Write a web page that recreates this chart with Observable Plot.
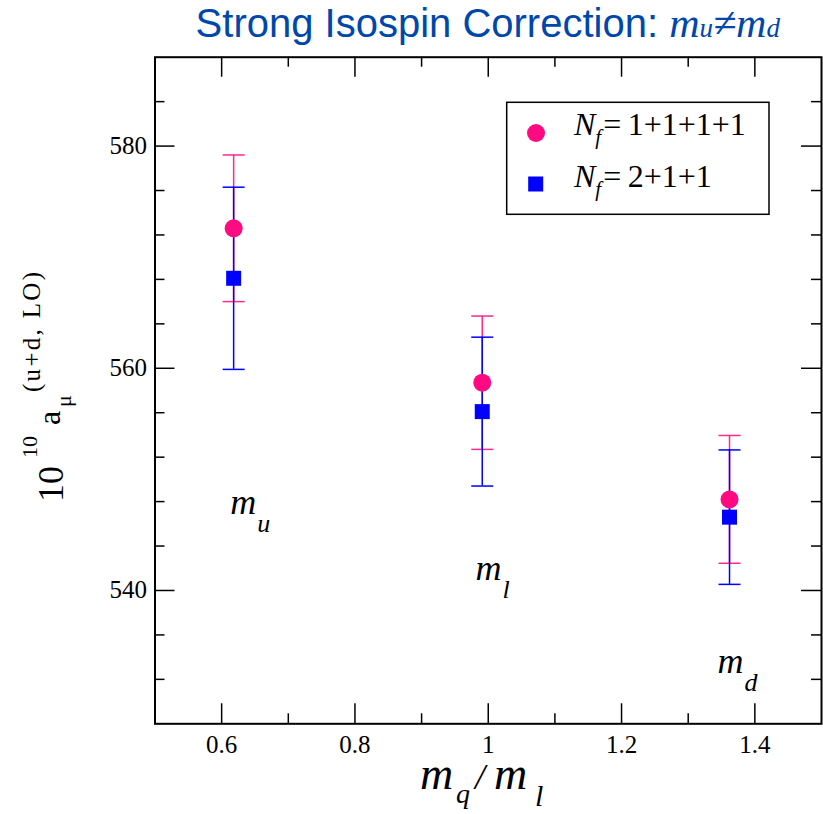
<!DOCTYPE html>
<html><head><meta charset="utf-8">
<script src="https://cdn.jsdelivr.net/npm/d3@7"></script>
<script src="https://cdn.jsdelivr.net/npm/@observablehq/plot@0.6"></script>
<style>
body{margin:0;background:#fff;}
#title{height:50px;box-sizing:border-box;padding:1px 2px 0 154.5px;text-align:center;font-family:"Liberation Sans",Arial,sans-serif;font-size:40px;line-height:44px;color:#0047ab;white-space:nowrap;}
#title .m{font-family:"Liberation Serif",serif;font-style:italic;font-size:42px;}
#title .s{font-size:27px;}
#chart svg{display:block;overflow:visible;}
</style></head><body>
<div id="title">Strong Isospin Correction: <span class="m">m<span class="s">u</span>≠m<span class="s">d</span></span></div>
<div id="chart"></div>
<script>
// ---- data ----
const massRatio = [0.618, 0.991, 1.362];
const nf1111Value = [572.6, 558.7, 548.2];
const nf1111Error = [6.6, 6.0, 5.75];
const nf211Value = [568.1, 556.1, 546.6];
const nf211Error = [8.2, 6.7, 6.05];
const seriesNames = ["Nf=1+1+1+1", "Nf=2+1+1"];
const legendLabels = ["=\u20091+1+1+1", "=\u20092+1+1"];
const xMajorTicks = [0.6, 0.8, 1.0, 1.2, 1.4];
const xTickLabels = ["0.6", "0.8", "1", "1.2", "1.4"];
const xMinorTicks = [0.7, 0.9, 1.1, 1.3];
const yMajorTicks = [540, 560, 580];
const yMinorTicks = [532, 536, 544, 548, 552, 556, 564, 568, 572, 576, 584];
const annoX = [0.613, 0.981, 1.344];
const annoY = [546.9, 540.9, 532.6];
const annoSub = ["u", "l", "d"];

// ---- build tables ----
const pink = "#ff0a80", pinkBar = "#ff2a8e", blue = "#0000ff";
const mk = (vals, errs, s) => vals.map((v, i) => ({x: massRatio[i], y: v, lo: v - errs[i], hi: v + errs[i], s}));
const set1 = mk(nf1111Value, nf1111Error, seriesNames[0]);
const set2 = mk(nf211Value, nf211Error, seriesNames[1]);
const annos = annoX.map((x, i) => ({x, y: annoY[i], sub: annoSub[i]}));

const W = 823, H = 764, mL = 154.5, mR = 2, mT = 6.7, mB = 90.7;
const iw = W - mL - mR, ih = H - mT - mB;
const serif = "Liberation Serif, Times New Roman, serif";
const cap = {draw(ctx) { ctx.moveTo(-11, 0); ctx.lineTo(11, 0); }};

const plot = Plot.plot({
  width: W, height: H,
  marginLeft: mL, marginRight: mR, marginTop: mT, marginBottom: mB,
  style: {background: "white", color: "black"},
  x: {domain: [0.5, 1.5], label: null},
  y: {domain: [528, 588], label: null},
  marks: [
    Plot.ruleX(xMajorTicks, {insetTop: ih - 20, strokeWidth: 1.5}),
    Plot.ruleX(xMajorTicks, {insetBottom: ih - 20, strokeWidth: 1.5}),
    Plot.ruleX(xMinorTicks, {insetTop: ih - 10, strokeWidth: 1.5}),
    Plot.ruleX(xMinorTicks, {insetBottom: ih - 10, strokeWidth: 1.5}),
    Plot.ruleY(yMajorTicks, {insetRight: iw - 20, strokeWidth: 1.5}),
    Plot.ruleY(yMajorTicks, {insetLeft: iw - 20, strokeWidth: 1.5}),
    Plot.ruleY(yMinorTicks, {insetRight: iw - 10, strokeWidth: 1.5}),
    Plot.ruleY(yMinorTicks, {insetLeft: iw - 10, strokeWidth: 1.5}),
    Plot.frame({stroke: "black", strokeWidth: 2}),
    Plot.axisX(xMajorTicks, {tickSize: 0, tickPadding: 11, fontSize: 25, fontFamily: serif,
      tickFormat: d => xTickLabels[xMajorTicks.indexOf(d)]}),
    Plot.axisY(yMajorTicks, {tickSize: 0, tickPadding: 8, fontSize: 25, fontFamily: serif}),
    Plot.ruleX(set1, {x: "x", y1: "lo", y2: "hi", stroke: pinkBar, strokeWidth: 1.5}),
    Plot.dot(set1, {x: "x", y: "hi", symbol: cap, stroke: pinkBar, fill: "none", strokeWidth: 1.5}),
    Plot.dot(set1, {x: "x", y: "lo", symbol: cap, stroke: pinkBar, fill: "none", strokeWidth: 1.5}),
    Plot.ruleX(set2, {x: "x", y1: "lo", y2: "hi", stroke: blue, strokeWidth: 1.5}),
    Plot.dot(set2, {x: "x", y: "hi", symbol: cap, stroke: blue, fill: "none", strokeWidth: 1.5}),
    Plot.dot(set2, {x: "x", y: "lo", symbol: cap, stroke: blue, fill: "none", strokeWidth: 1.5}),
    Plot.dot(set1, {x: "x", y: "y", r: 9, fill: pink, stroke: null}),
    Plot.dot(set2, {x: "x", y: "y", r: 8.46, symbol: "square", fill: blue, stroke: null}),
    Plot.text(annos, {x: "x", y: "y", text: () => "m", textAnchor: "start", lineAnchor: "bottom",
      fontSize: 36, fontStyle: "italic", fontFamily: serif, fill: "black"}),
    Plot.text(annos, {x: "x", y: "y", text: "sub", textAnchor: "start", lineAnchor: "bottom",
      dx: 27, dy: 18, fontSize: 26, fontStyle: "italic", fontFamily: serif, fill: "black"})
  ]
});
document.getElementById("chart").appendChild(plot);

const svg = d3.select(plot);
const off = 50; // title height

// legend
const lg = svg.append("g").attr("font-family", serif).attr("fill", "black").attr("text-anchor", "start");
lg.append("rect").attr("x", 506.7).attr("y", 102.3 - off).attr("width", 262.3).attr("height", 112)
  .attr("fill", "white").attr("stroke", "black").attr("stroke-width", 1.5);
lg.append("circle").attr("cx", 536).attr("cy", 133 - off).attr("r", 9).attr("fill", pink);
lg.append("rect").attr("x", 528.2).attr("y", 184 - off - 7.5).attr("width", 15).attr("height", 15).attr("fill", blue);
[135, 187].forEach((b, i) => {
  const t = lg.append("text").attr("x", 574).attr("y", b - off).attr("font-size", 32);
  t.append("tspan").attr("font-style", "italic").text("N");
  t.append("tspan").attr("font-style", "italic").attr("font-size", 21).attr("dy", 9).text("f");
  t.append("tspan").attr("dy", -9).attr("dx", 2).text(legendLabels[i]);
});

// y-axis title
const yl = svg.append("g").attr("transform", `translate(63,${502 - off}) rotate(-90)`)
  .attr("font-family", serif).attr("fill", "black").attr("text-anchor", "start");
yl.append("text").attr("x", 0).attr("y", 0).attr("font-size", 36).text("10");
yl.append("text").attr("x", 44).attr("y", -26).attr("font-size", 22).text("10");
yl.append("text").attr("x", 77).attr("y", -3).attr("font-size", 32).text("a");
yl.append("text").attr("x", 95).attr("y", 8).attr("font-size", 22).text("μ");
yl.append("text").attr("x", 110).attr("y", -23).attr("font-size", 25)
  .attr("textLength", 120).attr("lengthAdjust", "spacing").text("(u+d, LO)");

// x-axis title
const xl = svg.append("g").attr("font-family", serif).attr("font-style", "italic").attr("fill", "black")
  .attr("text-anchor", "start");
xl.append("text").attr("x", 420).attr("y", 789 - off).attr("font-size", 46).text("m");
xl.append("text").attr("x", 456).attr("y", 803 - off).attr("font-size", 28).text("q");
xl.append("text").attr("x", 475).attr("y", 789 - off).attr("font-size", 36).text("/");
xl.append("text").attr("x", 494).attr("y", 789 - off).attr("font-size", 46).text("m");
xl.append("text").attr("x", 535).attr("y", 806 - off).attr("font-size", 30).text("l");
</script>
</body></html>
